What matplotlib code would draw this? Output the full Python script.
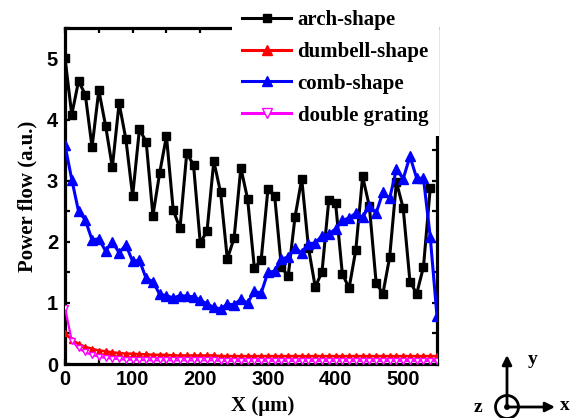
import matplotlib
matplotlib.use("Agg")
import matplotlib.pyplot as plt
from matplotlib.lines import Line2D
from matplotlib.patches import Circle
from matplotlib.ticker import MultipleLocator

# Position along the structure (um)
x_um = list(range(0, 551, 10))

arch_shape = [5.01, 4.08, 4.63, 4.41, 3.55, 4.48, 3.90, 3.22, 4.27, 3.68,
              2.75, 3.84, 3.64, 2.43, 3.13, 3.73, 2.52, 2.22, 3.45, 3.26,
              1.98, 2.18, 3.32, 2.81, 1.72, 2.06, 3.21, 2.70, 1.57, 1.70,
              2.86, 2.75, 1.58, 1.44, 2.40, 3.03, 1.90, 1.26, 1.51, 2.68,
              2.64, 1.48, 1.24, 1.87, 3.07, 2.58, 1.33, 1.15, 1.75, 2.98,
              2.55, 1.35, 1.15, 1.59, 2.88]

dumbell_shape = [0.50, 0.40, 0.33, 0.28, 0.25, 0.22, 0.21, 0.19, 0.18, 0.17,
                 0.17, 0.16, 0.16, 0.15, 0.15, 0.15, 0.14, 0.14, 0.14, 0.14,
                 0.14, 0.14, 0.14, 0.13, 0.13, 0.13, 0.13, 0.13, 0.13, 0.13,
                 0.13, 0.13, 0.13, 0.13, 0.13, 0.13, 0.13, 0.13, 0.13, 0.13,
                 0.13, 0.13, 0.13, 0.13, 0.13, 0.13, 0.13, 0.13, 0.13, 0.13,
                 0.13, 0.13, 0.13, 0.13, 0.13, 0.13]

comb_shape = [3.58, 3.02, 2.50, 2.36, 2.03, 2.05, 1.85, 2.00, 1.82, 1.95,
              1.68, 1.70, 1.40, 1.35, 1.14, 1.12, 1.08, 1.12, 1.11, 1.10,
              1.05, 0.98, 0.93, 0.90, 0.98, 0.97, 1.06, 1.00, 1.19, 1.16,
              1.50, 1.52, 1.72, 1.75, 1.90, 1.82, 1.97, 1.98, 2.10, 2.13,
              2.21, 2.35, 2.39, 2.47, 2.40, 2.59, 2.47, 2.81, 2.71, 3.19,
              3.03, 3.40, 3.04, 3.04, 2.08, 0.78]

double_grating = [0.92, 0.38, 0.26, 0.19, 0.15, 0.12, 0.10, 0.09, 0.08, 0.07,
                  0.07, 0.07, 0.06, 0.06, 0.06, 0.06, 0.06, 0.06, 0.06, 0.06,
                  0.06, 0.06, 0.06, 0.05, 0.05, 0.05, 0.05, 0.05, 0.05, 0.05,
                  0.05, 0.05, 0.05, 0.05, 0.05, 0.05, 0.05, 0.05, 0.05, 0.05,
                  0.05, 0.05, 0.05, 0.05, 0.05, 0.05, 0.05, 0.05, 0.05, 0.05,
                  0.05, 0.05, 0.05, 0.05, 0.05, 0.05]

series_labels = ["arch-shape", "dumbell-shape", "comb-shape", "double grating"]
x_ticks = [0, 100, 200, 300, 400, 500]
y_ticks = [0, 1, 2, 3, 4, 5]

SERIF = ["Liberation Serif", "DejaVu Serif"]
SANS = ["Liberation Sans", "DejaVu Sans"]

W, H = 572, 418
fig = plt.figure(figsize=(W / 100, H / 100), dpi=100)
ax = fig.add_axes([65 / W, 1 - 364 / H, (437 - 65) / W, (364 - 28) / H])

ax.plot(x_um[:len(arch_shape)], arch_shape, color="black", lw=2.2,
        marker="s", ms=5.8, mec="black", mfc="black", zorder=3)
ax.plot(x_um, dumbell_shape, color="red", lw=1.8,
        marker="^", ms=4.2, mec="red", mfc="red", zorder=4)
ax.plot(x_um, comb_shape, color="blue", lw=2.2,
        marker="^", ms=7.4, mec="blue", mfc="blue", zorder=5)
ax.plot(x_um, double_grating, color="magenta", lw=1.6,
        marker="v", ms=5.0, mec="magenta", mfc="white", mew=1.0, zorder=6)

ax.set_xlim(0, 550)
ax.set_ylim(0, 5.5)
ax.set_xticks(x_ticks)
ax.set_yticks(y_ticks)
ax.xaxis.set_minor_locator(MultipleLocator(50))
ax.yaxis.set_minor_locator(MultipleLocator(0.5))
ax.tick_params(which="both", direction="in", top=True, right=True,
               length=3.5, width=1.6)
ax.tick_params(axis="x", pad=4)
ax.tick_params(axis="y", pad=5)
for lab in ax.get_xticklabels() + ax.get_yticklabels():
    lab.set_fontfamily(SANS)
    lab.set_fontweight("bold")
    lab.set_fontsize(14.5)
for sp in ax.spines.values():
    sp.set_linewidth(2.3)

ax.set_xlabel("X (\u03bcm)", fontfamily=SERIF, fontweight="bold", fontsize=15)
ax.set_ylabel("Power flow (a.u.)", fontfamily=SERIF, fontweight="bold", fontsize=15)
ax.xaxis.set_label_coords((263 - 65) / 372, (364 - 396) / 336)
ax.yaxis.set_label_coords((37 - 65) / 372, 0.5)

# Legend proxies (legend markers are drawn larger than in the plot)
handles = [
    Line2D([], [], color="black", lw=2.2, marker="s", ms=5.8, mfc="black", mec="black"),
    Line2D([], [], color="red", lw=2.2, marker="^", ms=7.2, mfc="red", mec="red"),
    Line2D([], [], color="blue", lw=2.2, marker="^", ms=7.2, mfc="blue", mec="blue"),
    Line2D([], [], color="magenta", lw=2.2, marker="v", ms=7.2, mfc="white",
           mec="magenta", mew=1.0),
]
leg = ax.legend(handles, series_labels, loc="lower left",
                bbox_to_anchor=(232 / W, 1 - 136 / H), bbox_transform=fig.transFigure,
                borderaxespad=0, borderpad=0.5, handlelength=2.35,
                handletextpad=0.3, labelspacing=0.57, numpoints=1,
                frameon=True, fancybox=False, framealpha=1.0,
                prop={"family": SERIF, "weight": "bold", "size": 15})
leg.get_frame().set_facecolor("white")
leg.get_frame().set_edgecolor("none")
leg.set_zorder(10)

# Coordinate-system glyph drawn in pixel units on an overlay
ov = fig.add_axes([0, 0, 1, 1], zorder=20)
ov.set_xlim(0, W)
ov.set_ylim(H, 0)
ov.axis("off")
cx, cy = 507, 407
ov.add_patch(Circle((cx, cy), 11.5, fill=False, lw=2.0, ec="black"))
ov.add_patch(Circle((cx, cy), 2.2, color="black"))
arrow = dict(arrowstyle="-|>", lw=2.0, color="black", mutation_scale=14,
             shrinkA=0, shrinkB=0)
ov.annotate("", xy=(cx, 355), xytext=(cx, cy), arrowprops=arrow)
ov.annotate("", xy=(555, cy), xytext=(cx, cy), arrowprops=arrow)
glyph_font = dict(fontfamily=SERIF, fontweight="bold", fontsize=14,
                  ha="center", va="center")
ov.text(533, 360, "y", **glyph_font)
ov.text(478, 407, "z", **glyph_font)
ov.text(565, 405, "x", **glyph_font)

fig.savefig("out.png", dpi=100)
